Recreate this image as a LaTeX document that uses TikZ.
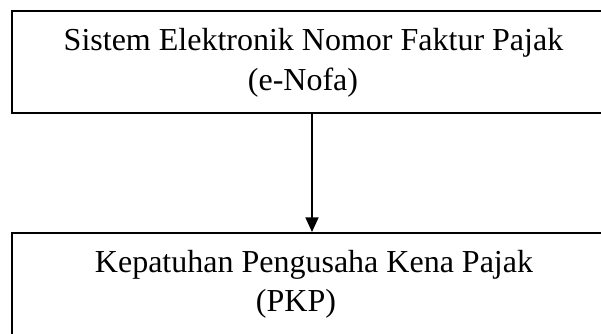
\documentclass[tikz,border=0pt]{standalone}
\usepackage{fontspec}
\setmainfont{Liberation Serif}
\usetikzlibrary{arrows.meta}
\begin{document}
\begin{tikzpicture}[x=0.75pt,y=-0.75pt,
  box/.style={draw=black,line width=1.5pt,rectangle,inner sep=0pt,minimum width=450pt},
  txt/.style={anchor=base,inner sep=0pt,font=\fontsize{24pt}{28pt}\selectfont},
  conn/.style={line width=1.5pt,-{Triangle[width=9.75pt,length=11pt]}}]
\useasboundingbox (0,0) rectangle (601,334);
\node[box,minimum height=76.5pt] (top) at (312,62) {};
\node[box,minimum height=80.25pt] (bot) at (312,286.5) {};
\node[txt] (t1) at (313.5,51) {Sistem Elektronik Nomor Faktur Pajak};
\node[txt] (t2) at (303,91) {(e-Nofa)};
\node[txt] (b1) at (314,273) {Kepatuhan Pengusaha Kena Pajak};
\node[txt] (b2) at (296,312) {(PKP)};
\draw[conn] (top.south) -- (bot.north);
\end{tikzpicture}
\end{document}
